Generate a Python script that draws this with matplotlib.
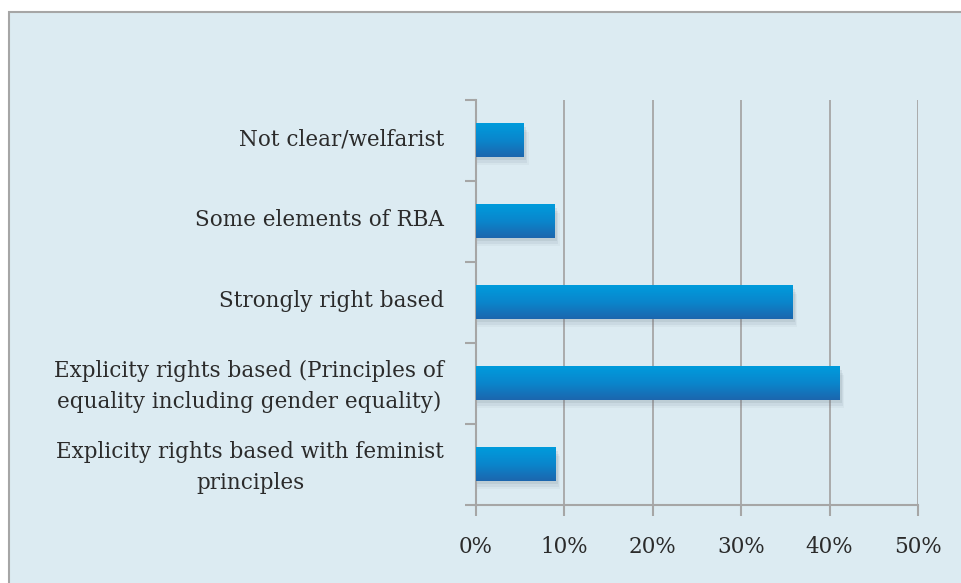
import matplotlib.pyplot as plt
import matplotlib.transforms as mtransforms
import numpy as np
from matplotlib.patches import Rectangle
from matplotlib.colors import LinearSegmentedColormap
from matplotlib.ticker import MultipleLocator, PercentFormatter

categories = ["Explicity rights based with feminist\nprinciples",
              "Explicity rights based (Principles of\nequality including gender equality)",
              "Strongly right based",
              "Some elements of RBA",
              "Not clear/welfarist"]
values = [9.0, 41.1, 35.8, 8.9, 5.4]

bg = "#dcebf2"
grid_col = "#a6a6a6"
text_col = "#2b2b2b"

fig = plt.figure(figsize=(9.62, 5.83), dpi=100)
fig.patch.set_facecolor("white")
# chart frame
fig.patches.append(Rectangle((9/962, -0.01), 1.0, 1 - 12/583 + 0.01, transform=fig.transFigure,
                             facecolor=bg, edgecolor=grid_col, linewidth=1.5, zorder=-10))

ax = fig.add_axes([476/962, 1 - 505/583, 442/962, 405/583])
ax.set_facecolor("none")

y = np.arange(len(categories))
h = 0.41

# gradient fill for bars, plus soft shadow
grad = np.linspace(0, 1, 64).reshape(-1, 1)
cmap = LinearSegmentedColormap.from_list("bar", ["#1c66ae", "#0a86cc", "#009bdc"])
for yi, v in zip(y, values):
    for k, a in enumerate([0.11, 0.08, 0.05]):
        off = 0.04 + k * 0.03
        ax.add_patch(Rectangle((0, yi - h / 2 - off), v + 0.25 + k * 0.15, h,
                               facecolor="#5a6a78", alpha=a, linewidth=0, zorder=2))
    ax.imshow(grad, cmap=cmap, aspect="auto", extent=(0, v, yi - h / 2, yi + h / 2),
              origin="lower", zorder=3)
ax.set_xlim(0, 50)
ax.set_ylim(-0.5, len(categories) - 0.5)

ax.xaxis.set_major_locator(MultipleLocator(10))
ax.xaxis.set_major_formatter(PercentFormatter(decimals=0))
ax.grid(axis="x", color=grid_col, linewidth=1.3, zorder=1)
ax.set_axisbelow(True)

ax.set_yticks(np.arange(-0.5, len(categories), 1.0))
ax.set_yticklabels([])
ax.set_yticks(y, minor=True)
ax.set_yticklabels(categories, minor=True, fontsize=15.5, family="DejaVu Serif",
                   color=text_col, ha="right", multialignment="center",
                   linespacing=1.5)
ax.tick_params(axis="y", which="minor", length=0, pad=23)
ax.tick_params(axis="y", which="major", length=8, width=1.5, color=grid_col)
ax.tick_params(axis="x", length=8, width=1.5, color=grid_col, pad=14,
               labelsize=15.5, labelcolor=text_col)
for lab in ax.get_xticklabels():
    lab.set_family("DejaVu Serif")
shift = mtransforms.ScaledTranslation(0, 4 / 100, fig.dpi_scale_trans)
for lab in ax.get_yticklabels(minor=True):
    lab.set_transform(lab.get_transform() + shift)

for s in ["top", "right"]:
    ax.spines[s].set_visible(False)
for s in ["left", "bottom"]:
    ax.spines[s].set_color(grid_col)
    ax.spines[s].set_linewidth(1.5)

fig.savefig("out.png", dpi=100, facecolor=fig.get_facecolor())
